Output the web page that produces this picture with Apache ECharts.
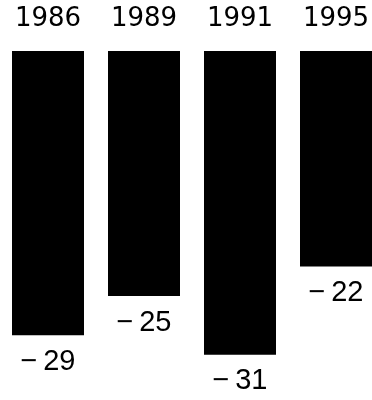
<!DOCTYPE html>
<html>
<head>
<meta charset="utf-8">
<script src="https://cdn.jsdelivr.net/npm/echarts@6/dist/echarts.min.js"></script>
<style>
html,body{margin:0;padding:0;background:#fff;}
#chart{width:372px;height:400px;}
</style>
</head>
<body>
<div id="chart"></div>
<script>
// Survey years and their change values
var years = ['1986', '1989', '1991', '1995'];
var changes = [-29, -25, -31, -22];

var chart = echarts.init(document.getElementById('chart'), null, {renderer: 'canvas'});
chart.setOption({
  animation: false,
  backgroundColor: '#ffffff',
  grid: {left: 0, top: 51, right: -12, bottom: 6, containLabel: false, outerBoundsMode: 'none'},
  xAxis: {
    type: 'category',
    data: years,
    position: 'top',
    axisLine: {show: false},
    axisTick: {show: false},
    axisLabel: {
      margin: 19,
      color: '#000',
      fontFamily: 'DejaVu Sans',
      fontSize: 26
    }
  },
  yAxis: {
    type: 'value',
    min: -35,
    max: 0,
    show: false,
    splitLine: {show: false}
  },
  series: [{
    type: 'bar',
    data: changes,
    barWidth: 72,
    itemStyle: {color: '#000'},
    label: {
      show: true,
      position: 'bottom',
      distance: 12,
      color: '#000',
      fontFamily: 'Liberation Sans',
      fontSize: 29,
      formatter: function (p) { return '\u2212\u2009' + Math.abs(p.value); }
    }
  }]
});
</script>
</body>
</html>
